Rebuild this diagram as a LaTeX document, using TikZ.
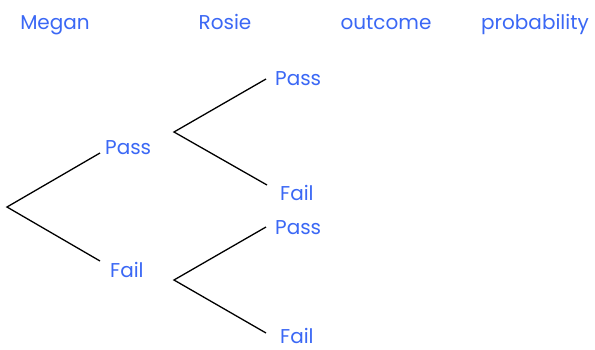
\documentclass[tikz,border=0pt]{standalone}
\usepackage{fontspec}
\setmainfont{Poppins}
\usetikzlibrary{calc}
\definecolor{txtblue}{RGB}{59,104,245}
\begin{document}
\begin{tikzpicture}[x=1pt,y=-1pt,
  lbl/.style={text=txtblue,font=\fontsize{20}{22}\selectfont,inner sep=0pt,anchor=base west},
  hdr/.style={text=txtblue,font=\fontsize{20}{22}\selectfont,inner sep=0pt,anchor=base},
  br/.style={draw=black,line width=1.3pt}]
\useasboundingbox (0,0) rectangle (595,349);
\fill[white] (0,0) rectangle (595,349);
% headers
\node[hdr] (hm) at (55,29) {Megan};
\node[hdr] (hr) at (225,29) {Rosie};
\node[hdr] (ho) at (386,29) {outcome};
\node[hdr] (hp) at (535,29) {probability};
% roots
\coordinate (r0) at (7,207);
\coordinate (r1) at (174,132);
\coordinate (r2) at (174,280);
% first level
\node[lbl] (p1) at (105,154) {Pass};
\node[lbl] (f1) at (110,277) {Fail};
% second level
\node[lbl] (pp) at (275,85) {Pass};
\node[lbl] (pf) at (280,200) {Fail};
\node[lbl] (fp) at (275,234) {Pass};
\node[lbl] (ff) at (280,343) {Fail};
% branches
\draw[br] ($(p1.base west)+(-5,-1)$) -- (r0) -- ($(f1.base west)+(-10,-16)$);
\draw[br] ($(pp.base west)+(-9,-6)$) -- (r1) -- ($(pf.base west)+(-13,-15)$);
\draw[br] ($(fp.base west)+(-9,-7)$) -- (r2) -- ($(ff.base west)+(-14,-10)$);
\end{tikzpicture}
\end{document}
